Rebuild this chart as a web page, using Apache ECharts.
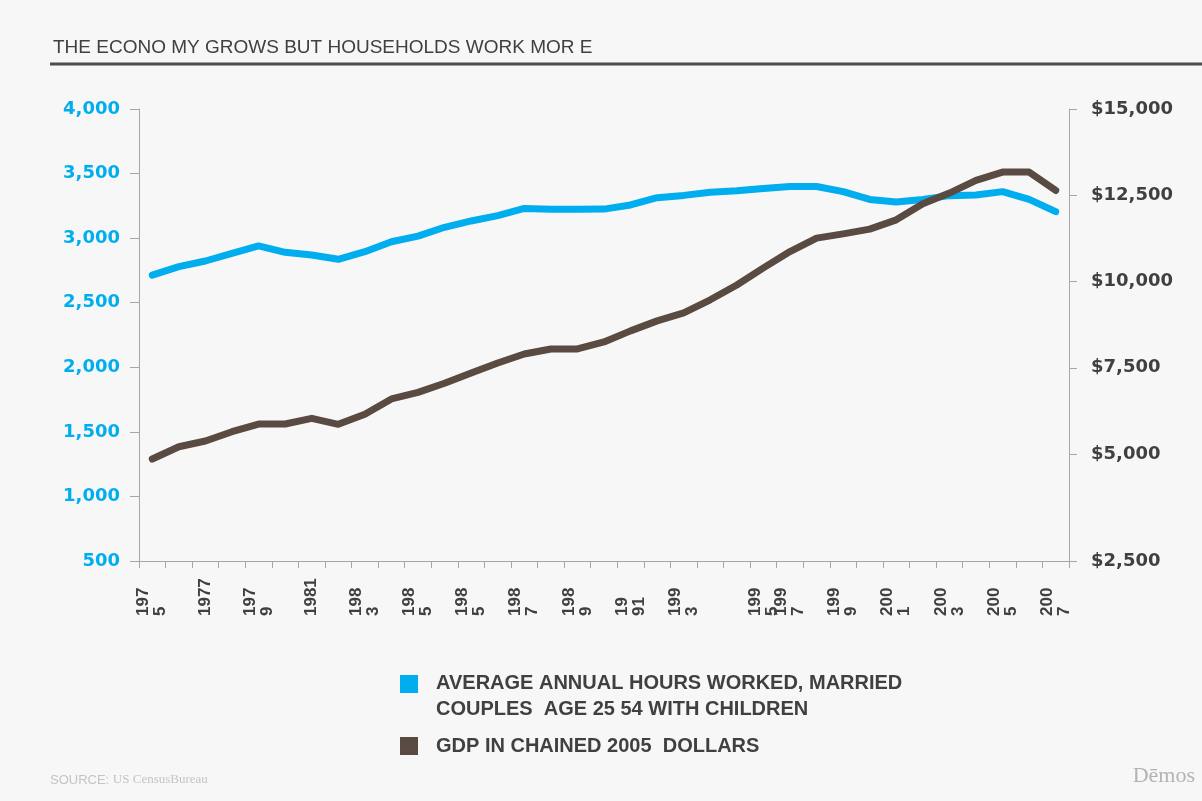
<!DOCTYPE html>
<html>
<head>
<meta charset="utf-8">
<script src="https://cdn.jsdelivr.net/npm/echarts@6/dist/echarts.min.js"></script>
<style>
html,body{margin:0;padding:0;background:#f7f7f7;}
#chart{width:1202px;height:801px;}
</style>
</head>
<body>
<div id="chart"></div>
<script>
// Categories (one per plotted point)
const categories = ['1975','1976','1977','1978','1979','1980','1981','1982','1983','1984','1985','1986','1987','1988','1989','1990','1991','1992','1993','1994','1995','1996','1997','1998','1999','2000','2001','2002','2003','2004','2005','2006','2007','2008','2009'];
// Tick labels as printed in the reference (wrapped, one every other category)
const tickLabels = ['197\n5','','1977','','197\n9','','1981','','198\n3','','198\n5','','198\n5','','198\n7','','198\n9','','19\n91','','199\n3','','','199\n5','199\n7','','199\n9','','200\n1','','200\n3','','200\n5','','200\n7'];
// Average annual hours worked, married couples age 25-54 with children
const hoursWorked = [2714,2780,2823,2882,2940,2890,2870,2836,2895,2972,3016,3084,3133,3174,3230,3224,3224,3225,3257,3313,3331,3355,3367,3385,3400,3400,3360,3300,3280,3300,3329,3334,3360,3300,3205];
// GDP in chained 2005 dollars (billions)
const gdp = [4855,5212,5377,5647,5870,5870,6035,5861,6151,6596,6789,7050,7350,7640,7900,8046,8046,8250,8570,8860,9090,9470,9900,10396,10869,11257,11382,11518,11788,12253,12563,12929,13172,13172,12638];
// Right axis tick positions and printed labels
const gdpTickValues = [1900,5000,7500,10000,12500,15000];
const gdpTickLabels = ['$2,500','$5,000','$7,500','$10,000','$12,500','$15,000'];

const seriesNames = ['AVERAGE ANNUAL HOURS WORKED, MARRIED\nCOUPLES  AGE 25 54 WITH CHILDREN','GDP IN CHAINED 2005  DOLLARS'];
const BLUE = '#00aeef', BROWN = '#594a42', DARK = '#404040', AXIS = '#a6a6a6';

const chart = echarts.init(document.getElementById('chart'), null, {renderer:'canvas'});
chart.setOption({
  backgroundColor: '#f7f7f7',
  animation: false,
  title: {
    text: 'THE ECONO MY GROWS BUT HOUSEHOLDS WORK MOR E',
    left: 48, top: 33,
    textStyle: {fontFamily:'Liberation Sans', fontSize: 19, fontWeight: 'normal', color: DARK}
  },
  grid: {left: 139, right: 133, top: 109, bottom: 240, containLabel: false},
  xAxis: {
    type: 'category',
    data: categories,
    boundaryGap: true,
    axisLine: {show: true, lineStyle: {color: AXIS, width: 1}},
    axisTick: {show: true, interval: 0, length: 7, lineStyle: {color: AXIS}},
    axisLabel: {
      interval: 0, rotate: 90, align: 'left', verticalAlign: 'middle',
      margin: 55, lineHeight: 17, padding: [12,0,0,0],
      fontFamily: 'Liberation Sans', fontWeight: 'bold', fontSize: 17, color: DARK,
      formatter: (v, i) => tickLabels[i]
    },
    splitLine: {show: false}
  },
  yAxis: [
    {
      type: 'value', position: 'left', min: 500, max: 4000, interval: 500,
      axisLine: {show: true, lineStyle: {color: AXIS, width: 1}},
      axisTick: {show: true, length: 9, lineStyle: {color: AXIS}},
      axisLabel: {margin: 19, fontFamily: 'DejaVu Sans', fontWeight: 'bold', fontSize: 18, color: BLUE,
        formatter: v => v.toLocaleString('en-US')},
      splitLine: {show: false}
    },
    {
      type: 'value', position: 'right', min: gdpTickValues[0], max: gdpTickValues[gdpTickValues.length-1],
      axisLine: {show: true, lineStyle: {color: AXIS, width: 1}},
      axisTick: {show: true, length: 8, lineStyle: {color: AXIS}, customValues: gdpTickValues},
      axisLabel: {margin: 22, fontFamily: 'DejaVu Sans', fontWeight: 'bold', fontSize: 18, color: DARK,
        customValues: gdpTickValues,
        formatter: v => gdpTickLabels[gdpTickValues.indexOf(v)]},
      splitLine: {show: false}
    }
  ],
  series: [
    {name: seriesNames[0], type: 'line', yAxisIndex: 0, data: hoursWorked, symbol: 'none',
     lineStyle: {color: BLUE, width: 7, cap: 'round', join: 'round'}, itemStyle: {color: BLUE}},
    {name: seriesNames[1], type: 'line', yAxisIndex: 1, data: gdp, symbol: 'none',
     lineStyle: {color: BROWN, width: 7, cap: 'round', join: 'round'}, itemStyle: {color: BROWN}}
  ],
  graphic: [
    {type: 'line', shape: {x1: 50, y1: 64, x2: 1202, y2: 64}, style: {stroke: '#4d4d4d', lineWidth: 3}},
    {type: 'rect', shape: {x: 400, y: 675, width: 18, height: 18}, style: {fill: BLUE}},
    {type: 'text', x: 436, y: 670, style: {text: seriesNames[0], fill: DARK, font: 'bold 20px "Liberation Sans"', lineHeight: 26, verticalAlign: 'top'}},
    {type: 'rect', shape: {x: 400, y: 737, width: 18, height: 18}, style: {fill: BROWN}},
    {type: 'text', x: 436, y: 746, style: {text: seriesNames[1], fill: DARK, font: 'bold 20px "Liberation Sans"', verticalAlign: 'middle'}},
    {type: 'text', x: 50, y: 780, style: {
      text: '{a|SOURCE: }{b|US CensusBureau}', verticalAlign: 'middle',
      rich: {a: {fontFamily: 'Liberation Sans', fontSize: 13, fill: '#c4c4c4'},
             b: {fontFamily: 'Liberation Serif', fontSize: 13, fill: '#c4c4c4'}}}},
    {type: 'text', x: 1195, y: 776, style: {text: 'Dēmos', fill: '#b3b3b3', font: '22px "Liberation Serif"', align: 'right', verticalAlign: 'middle'}}
  ]
});
</script>
</body>
</html>
